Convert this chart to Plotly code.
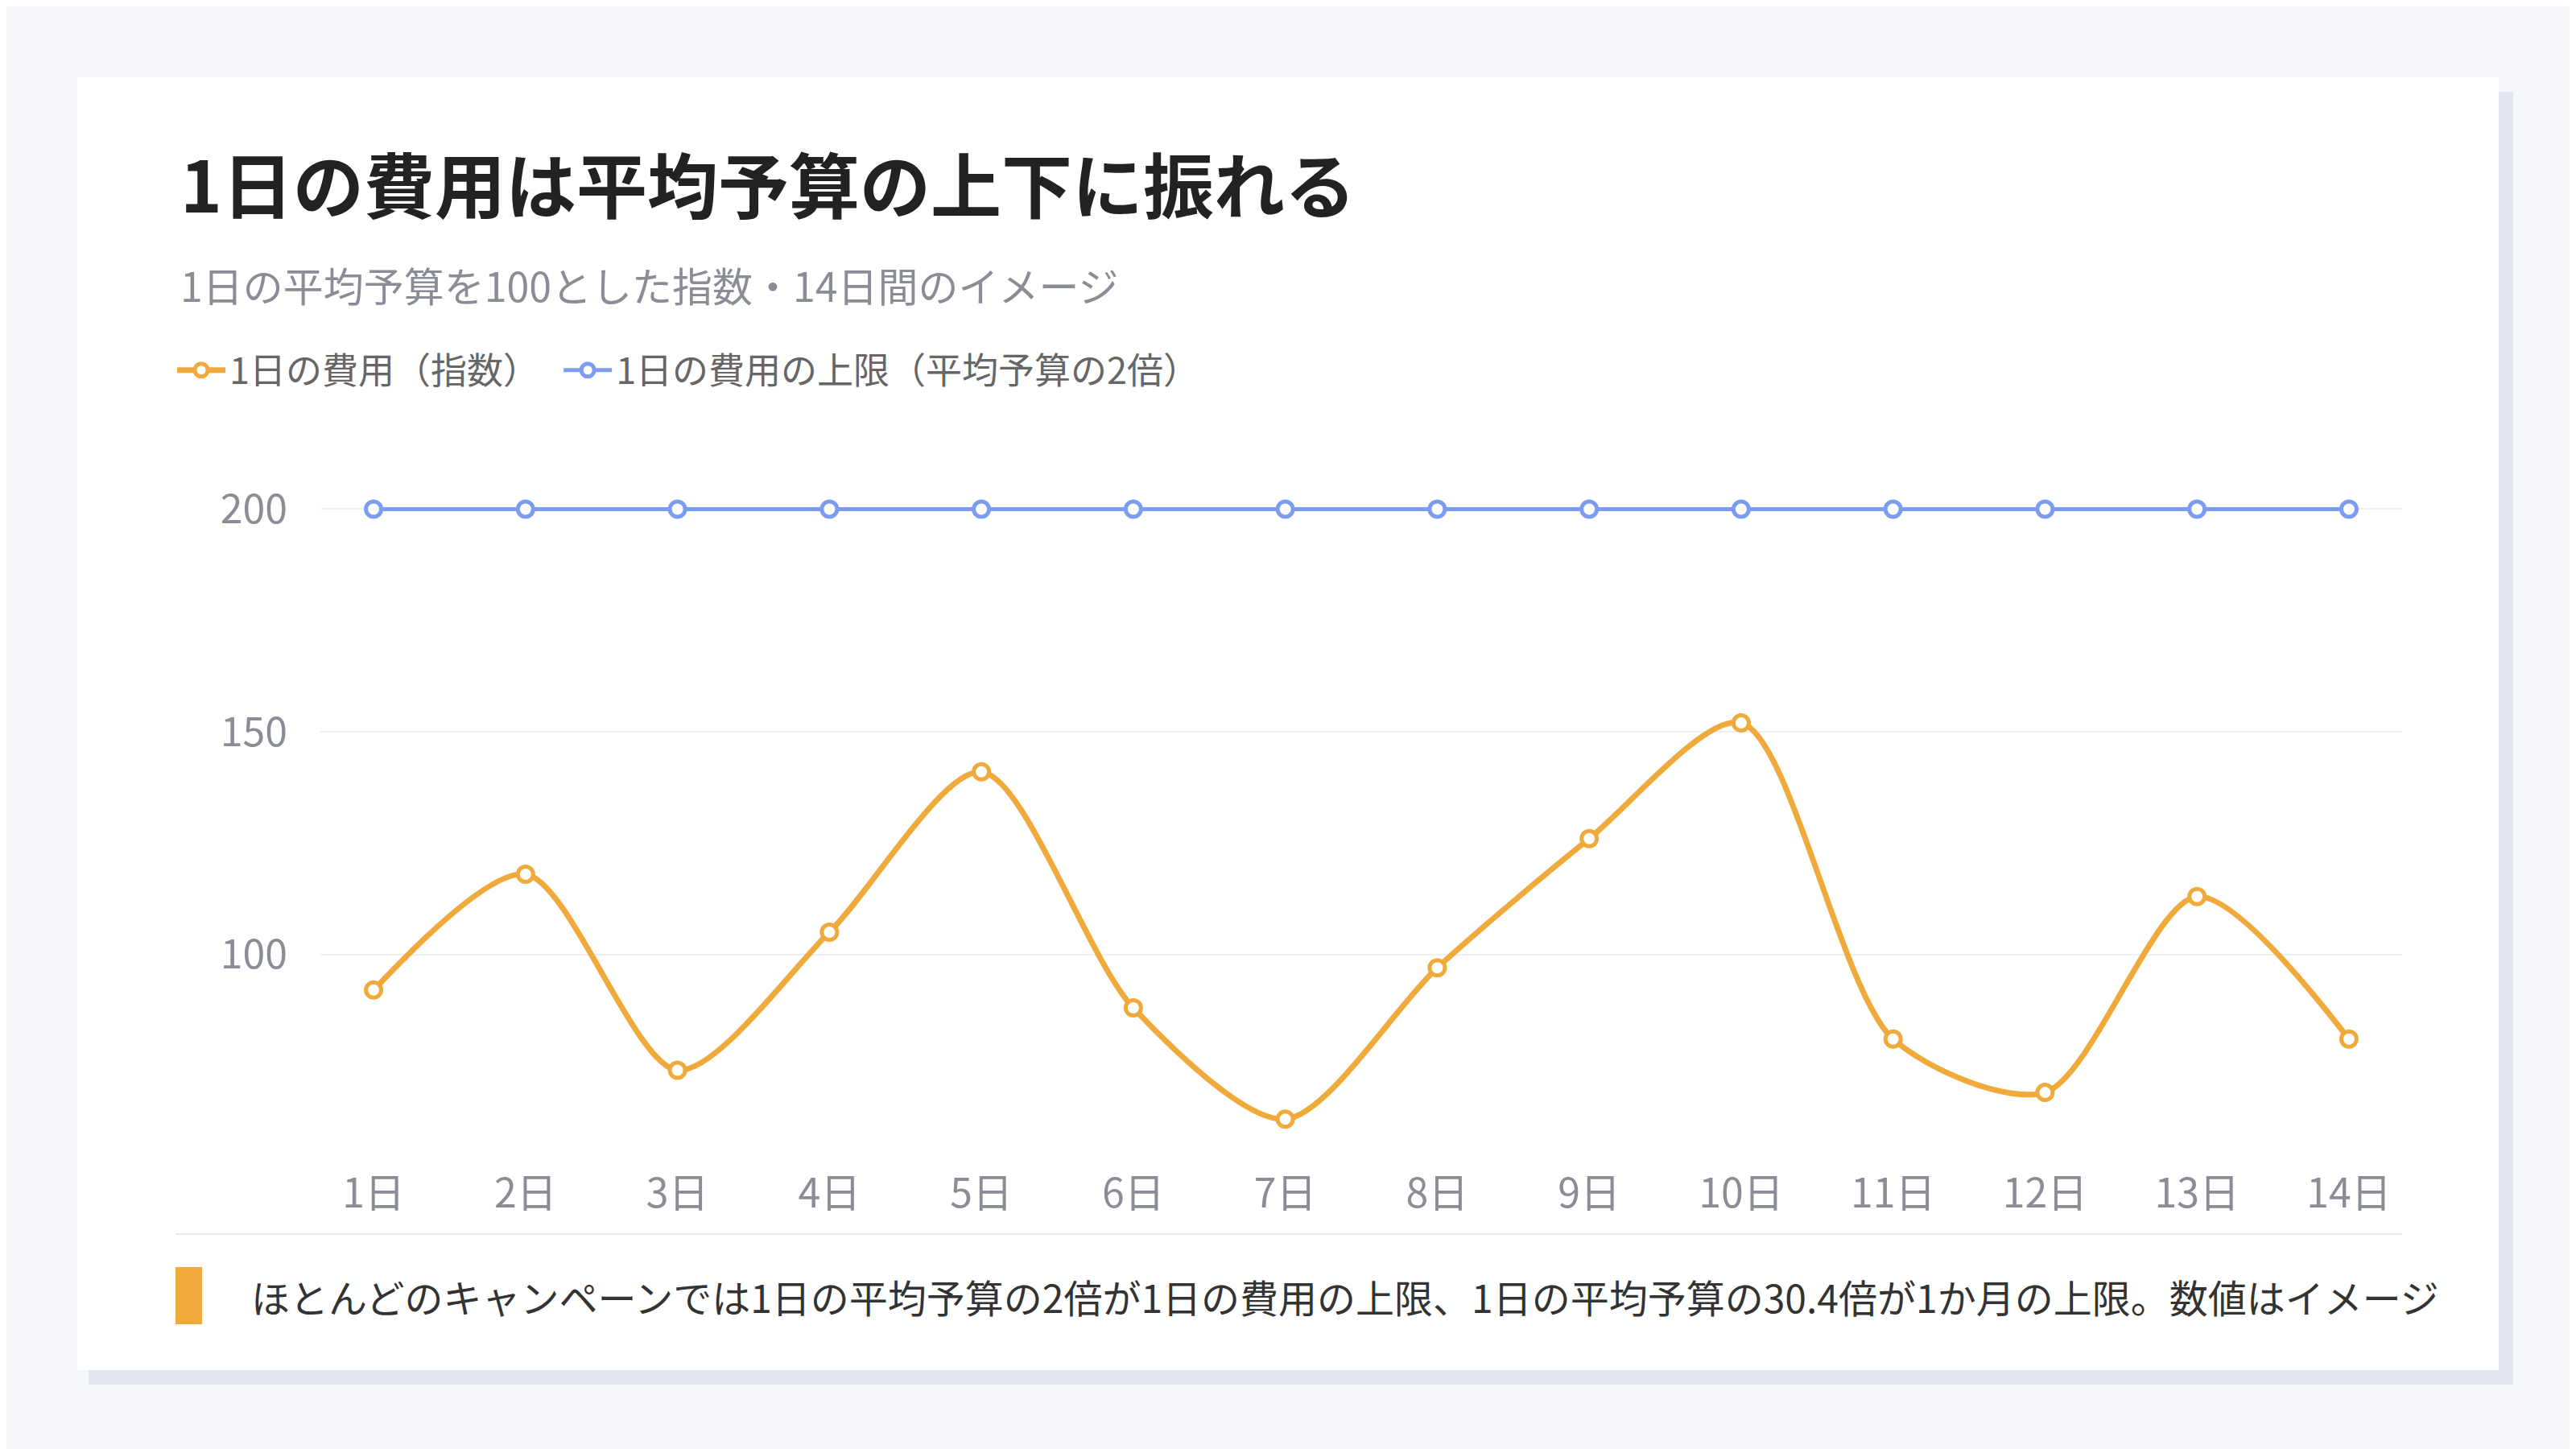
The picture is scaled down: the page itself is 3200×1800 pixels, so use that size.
import plotly.graph_objects as go

days = [f"{i}日" for i in range(1, 15)]
cost = [92, 118, 74, 105, 141, 88, 63, 97, 126, 152, 81, 69, 113, 81]
cap = [200] * 14
y_ticks = [100, 150, 200]

OFF = 8  # page body margin
W, H = 3200, 1800
X0, X1, Y0, Y1 = 398 - OFF, 2984 - OFF, 612 - OFF, 1429 - OFF
def px(x): return (x - OFF - X0) / (X1 - X0)
def py(y): return (Y1 - (y - OFF)) / (Y1 - Y0)

FONT = "Noto Sans CJK JP"
ORANGE = "#f0a93b"
BLUE = "#7b9cf0"

fig = go.Figure()
fig.add_trace(go.Scatter(x=days, y=cost, name="1日の費用（指数）  ", mode="lines+markers",
    line=dict(color=ORANGE, width=7, shape="spline", smoothing=0.8),
    marker=dict(size=19, color="white", line=dict(color=ORANGE, width=5))))
fig.add_trace(go.Scatter(x=days, y=cap, name="1日の費用の上限（平均予算の2倍）", mode="lines+markers",
    line=dict(color=BLUE, width=5),
    marker=dict(size=19, color="white", line=dict(color=BLUE, width=5))))

shapes = [
    dict(type="rect", xref="paper", yref="paper", x0=px(110), x1=px(3122), y0=py(114), y1=py(1720),
         fillcolor="#e3e6ee", line_width=0, layer="below"),
    dict(type="rect", xref="paper", yref="paper", x0=px(96), x1=px(3104), y0=py(96), y1=py(1702),
         fillcolor="white", line_width=0, layer="below"),
    dict(type="line", xref="paper", yref="paper", x0=px(218), x1=px(2984), y0=py(1533), y1=py(1533),
         line=dict(color="#e6e8ee", width=2)),
    dict(type="rect", xref="paper", yref="paper", x0=px(218), x1=px(251), y0=py(1574), y1=py(1645),
         fillcolor=ORANGE, line_width=0),
]
annotations = [
    dict(text="<b>1日の費用は平均予算の上下に振れる</b>", x=px(222), y=py(225), xref="paper", yref="paper",
         xanchor="left", yanchor="middle", showarrow=False, font=dict(size=88, color="#222")),
    dict(text="1日の平均予算を100とした指数・14日間のイメージ", x=px(222), y=py(353), xref="paper", yref="paper",
         xanchor="left", yanchor="middle", showarrow=False, font=dict(size=50, color="#8a8d96")),
    dict(text="ほとんどのキャンペーンでは1日の平均予算の2倍が1日の費用の上限、1日の平均予算の30.4倍が1か月の上限。数値はイメージ",
         x=px(310), y=py(1610), xref="paper", yref="paper", xanchor="left", yanchor="middle",
         showarrow=False, font=dict(size=48, color="#333")),
]

fig.update_layout(
    width=W, height=H, paper_bgcolor="#f4f6fa", plot_bgcolor="white",
    margin=dict(l=X0, r=W - X1, t=Y0, b=H - Y1),
    font=dict(family=FONT),
    shapes=shapes, annotations=annotations,
    legend=dict(orientation="h", x=px(215), y=py(460), xanchor="left", yanchor="middle",
                font=dict(size=45, color="#666"), bgcolor="rgba(0,0,0,0)", itemwidth=60),
    xaxis=dict(range=[-0.35, 13.35], showgrid=False, zeroline=False, showline=False,
               tickfont=dict(size=50, color="#8a8d96"), ticks="", ticklabelstandoff=20),
    yaxis=dict(range=[56, 203.7], tickvals=y_ticks, showgrid=True, gridcolor="#eef0f3", gridwidth=2,
               zeroline=False, showline=False, tickfont=dict(size=50, color="#8a8d96"), ticklabelstandoff=40),
)
fig.write_html("out.html")
